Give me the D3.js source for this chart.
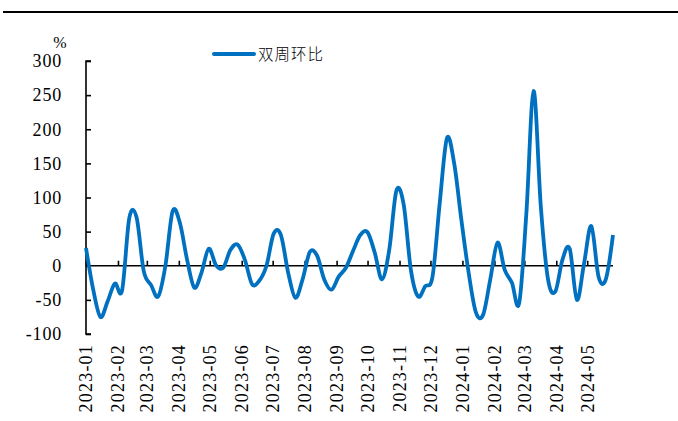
<!DOCTYPE html>
<html><head><meta charset="utf-8">
<script src="https://cdn.jsdelivr.net/npm/d3@7"></script>
<style>
body{margin:0;background:#fff;}
svg{display:block;}
.serif{font-family:"Liberation Serif","Times New Roman","DejaVu Serif",serif;}
</style></head>
<body><svg id="c" width="678" height="421"></svg>
<script>
const seriesName = "双周环比";
const unitLabel = "%";
const startDate = "2023-01-06";
const values = [26,-35,-75,-52,-26,-36,70,71,-8,-28,-45,0,80,63,9,-32,-10,25,1,-3,
23,31,9,-27,-22,0,47,45,-10,-47,-20,20,15,-20,-35,-16,-3,22,45,49,
19,-20,23,110,90,-6,-45,-30,-16,92,187,150,67,-10,-68,-72,-20,34,-6,-25,
-55,77,256,87,-20,-38,9,25,-50,4,58,-16,-20,45];
const tickLabels = ["2023-01","2023-02","2023-03","2023-04","2023-05","2023-06","2023-07","2023-08","2023-09","2023-10","2023-11","2023-12","2024-01","2024-02","2024-03","2024-04","2024-05"];
const yTicks = [300,250,200,150,100,50,0,-50,-100];

const svg = d3.select("#c");
const parse = d3.timeParse("%Y-%m-%d");
const t0 = parse(startDate);
const data = values.map((v,i)=>({d:d3.timeDay.offset(t0,7*i), v}));
const tickDates = tickLabels.map((l,i)=>d3.timeMonth.offset(t0,i));

const x = d3.scaleTime().domain([data[0].d, data[data.length-1].d]).range([86,613]);
const y = d3.scaleLinear().domain([-100,300]).range([334,61]);

// top rule
svg.append("line").attr("x1",3).attr("x2",678).attr("y1",12).attr("y2",12)
  .attr("stroke","#000").attr("stroke-width",2.2);

// y axis
const yAxis = d3.axisRight(y).tickValues(yTicks).tickSize(5).tickFormat("");
const gy = svg.append("g").attr("transform","translate(86,0)").call(yAxis);
gy.selectAll("path,line").attr("stroke","#000").attr("stroke-width",1.6);
gy.select(".domain").attr("d", `M5,${y(300)}H0V${y(-100)}H5`);
svg.append("g").selectAll("text").data(yTicks).join("text")
  .attr("class","serif")
  .attr("x",62).attr("y",d=>y(d)).attr("dy","0.35em").attr("text-anchor","end")
  .attr("font-size",18).attr("letter-spacing","0.8px")
  .attr("fill","#000").text(d=>d);
svg.append("text").attr("class","serif").attr("x",60).attr("y",48).attr("text-anchor","middle")
  .attr("font-size",16).text(unitLabel);

// x axis at zero
const xAxis = d3.axisTop(x).tickValues(tickDates).tickSize(5).tickFormat("");
const gx = svg.append("g").attr("transform",`translate(0,${y(0)})`).call(xAxis);
gx.selectAll("path,line").attr("stroke","#000").attr("stroke-width",1.6);
gx.select(".domain").attr("d",`M${x.range()[0]},0H${x.range()[1]}`);

svg.append("g").selectAll("text").data(tickDates).join("text")
  .attr("class","serif")
  .attr("transform",d=>`translate(${x(d)},344) rotate(-90)`)
  .attr("dy","0.35em").attr("text-anchor","end")
  .attr("font-size",18).attr("letter-spacing","1.2px")
  .attr("fill","#000").text((d,i)=>tickLabels[i]);

// line
const line = d3.line().x(d=>x(d.d)).y(d=>y(d.v)).curve(d3.curveCardinal.tension(0));
svg.append("path").datum(data).attr("d",line).attr("fill","none")
  .attr("stroke","#0070C0").attr("stroke-width",3.8).attr("stroke-linejoin","round");

// legend
svg.append("line").attr("x1",214).attr("x2",254).attr("y1",54).attr("y2",54)
  .attr("stroke","#0070C0").attr("stroke-width",4).attr("stroke-linecap","round");
svg.append("text").attr("x",258).attr("y",54).attr("dy","0.36em")
  .style("font-family","'Noto Sans CJK SC',sans-serif").attr("font-size",15.5)
  .attr("font-weight",300).attr("letter-spacing","1px").text(seriesName);
</script></body></html>
